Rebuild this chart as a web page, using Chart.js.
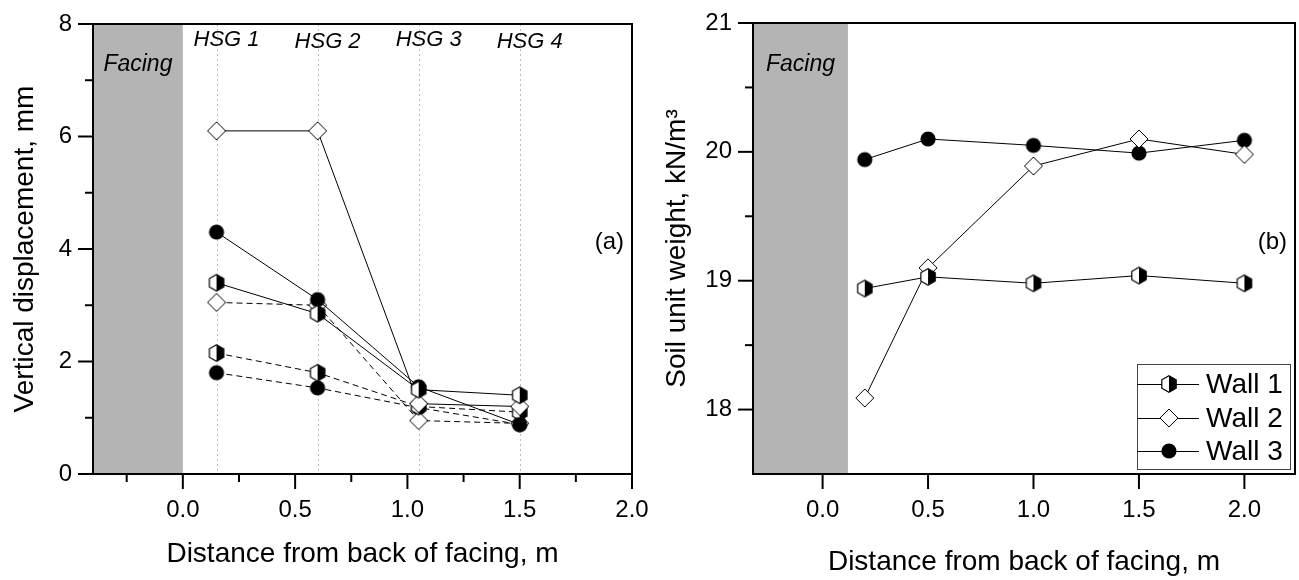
<!DOCTYPE html>
<html><head><meta charset="utf-8">
<script src="https://cdn.jsdelivr.net/npm/chart.js@4.4.1/dist/chart.umd.min.js"></script>
<style>
html,body{margin:0;padding:0;background:#fff;overflow:hidden}
#wrap{position:relative;width:1299px;height:580px;background:#fff}
#c1{position:absolute;left:0;top:0}
#c2{position:absolute;left:650px;top:0}
</style></head><body>
<div id="wrap"><canvas id="c1" width="650" height="580"></canvas><canvas id="c2" width="649" height="580"></canvas></div>
<script>
// ---------- data (panel a) ----------
const hsgX = [0.15, 0.6, 1.05, 1.5];
const hsgLabels = ['HSG 1', 'HSG 2', 'HSG 3', 'HSG 4'];
const dispWall1Solid = [3.4, 2.85, 1.5, 1.4];
const dispWall2Solid = [6.1, 6.1, 1.25, 1.2];
const dispWall3Solid = [4.3, 3.1, 1.55, 0.88];
const dispWall1Dash = [2.15, 1.8, 1.2, 1.1];
const dispWall2Dash = [3.05, 3.0, 0.95, 0.9];
const dispWall3Dash = [1.8, 1.53, 1.18, 0.88];
const xTicksA = [0, 0.5, 1.0, 1.5, 2.0];
const xMinorA = [-0.25, 0.25, 0.75, 1.25, 1.75];
const yTicksA = [0, 2, 4, 6, 8];
const yMinorA = [1, 3, 5, 7];
const facingA = [-0.4, 0.0];
// ---------- data (panel b) ----------
const distB = [0.2, 0.5, 1.0, 1.5, 2.0];
const gammaWall1 = [18.94, 19.03, 18.98, 19.04, 18.98];
const gammaWall2 = [18.09, 19.10, 19.89, 20.10, 19.98];
const gammaWall3 = [19.94, 20.10, 20.05, 19.99, 20.09];
const xTicksB = [0, 0.5, 1.0, 1.5, 2.0];
const yTicksB = [18, 19, 20, 21];
const yMinorB = [18.5, 19.5, 20.5];
const facingB = [-0.33, 0.12];
const wallNames = ['Wall 1', 'Wall 2', 'Wall 3'];

const FONT = "'Liberation Sans', Arial, sans-serif";

// ---------- marker images ----------
function mk(drawFn) {
  const c = document.createElement('canvas');
  c.width = 22; c.height = 22;
  const g = c.getContext('2d');
  drawFn(g, 11, 11);
  return c;
}
const hexMarker = mk((g, cx, cy) => {
  const r = 8.3, dx = r * Math.cos(Math.PI / 6);
  const top = [cx, cy - r], ur = [cx + dx, cy - r / 2], lr = [cx + dx, cy + r / 2],
        bot = [cx, cy + r], ll = [cx - dx, cy + r / 2], ul = [cx - dx, cy - r / 2];
  g.beginPath(); g.moveTo(...top); g.lineTo(...ul); g.lineTo(...ll); g.lineTo(...bot); g.closePath();
  g.fillStyle = '#fff'; g.fill();
  g.beginPath(); g.moveTo(...top); g.lineTo(...ur); g.lineTo(...lr); g.lineTo(...bot); g.closePath();
  g.fillStyle = '#000'; g.fill();
  g.beginPath(); g.moveTo(...top); g.lineTo(...ur); g.lineTo(...lr); g.lineTo(...bot); g.lineTo(...ll); g.lineTo(...ul); g.closePath();
  g.strokeStyle = '#000'; g.lineWidth = 1.2; g.stroke();
});
const diaMarker = mk((g, cx, cy) => {
  const r = 9;
  g.beginPath(); g.moveTo(cx, cy - r); g.lineTo(cx + r, cy); g.lineTo(cx, cy + r); g.lineTo(cx - r, cy); g.closePath();
  g.fillStyle = '#fff'; g.fill(); g.strokeStyle = '#000'; g.lineWidth = 1; g.stroke();
});
const cirMarker = mk((g, cx, cy) => {
  g.beginPath(); g.arc(cx, cy, 7.6, 0, Math.PI * 2); g.fillStyle = '#000'; g.fill();
});
const markers = [hexMarker, diaMarker, cirMarker];

function pts(xs, ys) { return xs.map((x, i) => ({ x: x, y: ys[i] })); }
function ds(label, xs, ys, mi, dashed) {
  return {
    label: label, data: pts(xs, ys), showLine: true,
    borderColor: '#000', borderWidth: 1, borderDash: dashed ? [6, 4] : [],
    pointStyle: markers[mi], pointRadius: 8, pointHoverRadius: 8,
    backgroundColor: '#000', tension: 0, clip: false
  };
}

// ---------- decoration plugin ----------
const decor = {
  id: 'decor',
  beforeDatasetsDraw(chart, args, o) {
    const { ctx, chartArea: a, scales: { x, y } } = chart;
    ctx.save();
    ctx.fillStyle = '#b4b4b4';
    const fx0 = x.getPixelForValue(o.facing[0]), fx1 = x.getPixelForValue(o.facing[1]);
    ctx.fillRect(fx0, a.top, fx1 - fx0, a.bottom - a.top);
    if (o.hsg) {
      ctx.strokeStyle = '#bdbdbd'; ctx.lineWidth = 1; ctx.setLineDash([2, 3]);
      o.hsg.forEach(v => {
        const px = Math.round(x.getPixelForValue(v)) + 0.5;
        ctx.beginPath(); ctx.moveTo(px, a.top); ctx.lineTo(px, a.bottom); ctx.stroke();
      });
      ctx.setLineDash([]);
    }
    ctx.fillStyle = '#000';
    ctx.font = 'italic 23px ' + FONT;
    ctx.textAlign = 'center'; ctx.textBaseline = 'alphabetic';
    ctx.fillText('Facing', (fx0 + fx1) / 2, o.facingY);
    if (o.hsg) {
      ctx.font = 'italic 22px ' + FONT;
      o.hsg.forEach((v, i) => {
        ctx.fillText(o.hsgLabels[i], x.getPixelForValue(v) + 10, o.hsgY[i]);
      });
    }
    ctx.restore();
  },
  afterDraw(chart, args, o) {
    const { ctx, chartArea: a, scales: { x, y } } = chart;
    ctx.save();
    ctx.strokeStyle = '#000';
    ctx.lineWidth = 2;
    const tx = (vals, len) => vals.forEach(v => {
      const px = x.getPixelForValue(v);
      ctx.beginPath(); ctx.moveTo(px, a.bottom); ctx.lineTo(px, a.bottom + len); ctx.stroke();
    });
    const ty = (vals, len) => vals.forEach(v => {
      const py = y.getPixelForValue(v);
      ctx.beginPath(); ctx.moveTo(a.left, py); ctx.lineTo(a.left - len, py); ctx.stroke();
    });
    tx(o.majorX, 15); tx(o.minorX || [], 8);
    ty(o.majorY, 15); ty(o.minorY || [], 8);
    ctx.strokeRect(a.left, a.top, a.right - a.left, a.bottom - a.top);
    ctx.fillStyle = '#000';
    ctx.font = '24px ' + FONT;
    ctx.textAlign = 'right'; ctx.textBaseline = 'middle';
    ctx.fillText(o.letter, a.right - 8, o.letterY);
    if (o.legendBox) {
      const L = o.legendBox;
      ctx.lineWidth = 1; ctx.strokeStyle = '#444';
      ctx.strokeRect(L.x0 + 0.5, L.y0 + 0.5, L.x1 - L.x0, L.y1 - L.y0);
      ctx.font = '28px ' + FONT; ctx.textAlign = 'left'; ctx.textBaseline = 'middle';
      chart.data.datasets.forEach((d, i) => {
        const ry = L.rowY[i];
        ctx.strokeStyle = '#000'; ctx.lineWidth = 1;
        ctx.beginPath(); ctx.moveTo(L.x0, ry + 0.5); ctx.lineTo(L.lineEnd, ry + 0.5); ctx.stroke();
        const img = d.pointStyle;
        ctx.drawImage(img, L.mx - img.width / 2, ry - img.height / 2);
        ctx.fillStyle = '#000';
        ctx.fillText(d.label, L.tx, ry + 1);
      });
    }
    ctx.restore();
  }
};

function fixTicks(vals) {
  return function (s) { s.ticks = vals.map(v => ({ value: v })); };
}

function makeOptions(cfg) {
  return {
    responsive: false, animation: false, devicePixelRatio: 1,
    layout: { autoPadding: false, padding: { top: cfg.padTop, right: cfg.padRight, left: 0, bottom: 0 } },
    plugins: {
      legend: { display: false }, tooltip: { enabled: false }, title: { display: false },
      decor: cfg.decor
    },
    scales: {
      x: {
        type: 'linear', min: cfg.xMin, max: cfg.xMax,
        afterBuildTicks: fixTicks(cfg.xTicks),
        afterFit: s => { s.height = cfg.xH; s.paddingLeft = 0; s.paddingRight = 0; s.paddingTop = 0; s.paddingBottom = 0; },
        grid: { display: false, drawTicks: false },
        border: { display: false },
        ticks: {
          autoSkip: false, maxRotation: 0, padding: cfg.xPad, color: '#000',
          font: { family: FONT, size: 24 },
          callback: v => Number(v).toFixed(1)
        },
        title: {
          display: true, text: 'Distance from back of facing, m', color: '#000',
          font: { family: FONT, size: 28 }, padding: { top: 0, bottom: cfg.xTitlePad }
        }
      },
      y: {
        type: 'linear', min: cfg.yMin, max: cfg.yMax,
        afterBuildTicks: fixTicks(cfg.yTicks),
        afterFit: s => { s.width = cfg.yW; s.paddingLeft = 0; s.paddingRight = 0; s.paddingTop = 0; s.paddingBottom = 0; },
        grid: { display: false, drawTicks: false },
        border: { display: false },
        ticks: {
          autoSkip: false, padding: 21, color: '#000',
          font: { family: FONT, size: 24 },
          callback: v => String(v)
        },
        title: {
          display: true, text: cfg.yTitle, color: '#000',
          font: { family: FONT, size: 28 }, padding: { top: cfg.yTitlePad, bottom: 0 }
        }
      }
    }
  };
}

new Chart(document.getElementById('c1'), {
  type: 'line',
  plugins: [decor],
  data: {
    datasets: [
      ds('Wall 1', hsgX, dispWall1Solid, 0, false),
      ds('Wall 2', hsgX, dispWall2Solid, 1, false),
      ds('Wall 3', hsgX, dispWall3Solid, 2, false),
      ds('Wall 1', hsgX, dispWall1Dash, 0, true),
      ds('Wall 2', hsgX, dispWall2Dash, 1, true),
      ds('Wall 3', hsgX, dispWall3Dash, 2, true)
    ]
  },
  options: makeOptions({
    padTop: 24, padRight: 18, xMin: -0.4, xMax: 2.0, yMin: 0, yMax: 8,
    xTicks: xTicksA, yTicks: yTicksA, xH: 106, yW: 93, xPad: 22, xTitlePad: 9, yTitlePad: 8,
    yTitle: 'Vertical displacement, mm',
    decor: {
      facing: facingA, facingY: 71, hsg: hsgX, hsgLabels: hsgLabels, hsgY: [46, 48, 46, 48],
      majorX: xTicksA, minorX: xMinorA, majorY: yTicksA, minorY: yMinorA,
      letter: '(a)', letterY: 242
    }
  })
});

new Chart(document.getElementById('c2'), {
  type: 'line',
  plugins: [decor],
  data: {
    datasets: [
      ds(wallNames[0], distB, gammaWall1, 0, false),
      ds(wallNames[1], distB, gammaWall2, 1, false),
      ds(wallNames[2], distB, gammaWall3, 2, false)
    ]
  },
  options: makeOptions({
    padTop: 23, padRight: 4, xMin: -0.33, xMax: 2.24, yMin: 17.5, yMax: 21,
    xTicks: xTicksB, yTicks: yTicksB, xH: 106, yW: 103, xPad: 22, xTitlePad: 1, yTitlePad: 10,
    yTitle: 'Soil unit weight, kN/m³',
    decor: {
      facing: facingB, facingY: 71,
      majorX: xTicksB, minorX: [], majorY: yTicksB, minorY: yMinorB,
      letter: '(b)', letterY: 242,
      legendBox: { x0: 487, x1: 640, y0: 364, y1: 469, rowY: [384, 418, 451], lineEnd: 549, mx: 519, tx: 556 }
    }
  })
});
</script>
</body></html>
